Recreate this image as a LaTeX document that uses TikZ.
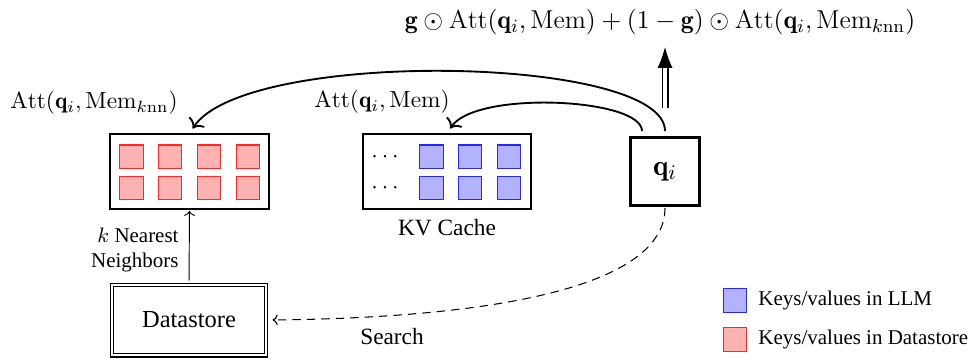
\documentclass[tikz,border=0pt]{standalone}
\usepackage{fontspec}
\usepackage{amsmath}
\newfontfamily\tnr{Liberation Serif}
\usetikzlibrary{arrows.meta,calc}
\begin{document}
\begin{tikzpicture}[x=0.4292pt,y=-0.4292pt,
  panel/.style={draw,line width=0.5pt,minimum height=32.2pt,inner sep=0pt},
  redsq/.style={draw=red!85,fill=red!30,line width=0.45pt,minimum size=9.9pt,inner sep=0pt},
  bluesq/.style={draw=blue!85,fill=blue!30,line width=0.45pt,minimum size=9.9pt,inner sep=0pt},
  qbox/.style={draw,line width=1pt,minimum width=29.6pt,minimum height=29.2pt,inner sep=0pt},
  dsbox/.style={draw,double,double distance=0.9pt,line width=0.45pt,minimum width=66.3pt,minimum height=30.4pt,inner sep=0pt},
  curvearr/.style={line width=0.8pt,-{To[length=3.6pt,width=8pt]}},
  thinarr/.style={line width=0.4pt,-{To[length=2.2pt,width=4.6pt]}},
  dasharr/.style={line width=0.45pt,dash pattern=on 3.6pt off 2.6pt,-{To[length=2.2pt,width=4.6pt]}},
  dblarr/.style={double,double distance=1.8pt,line width=0.6pt,-{Latex[length=9pt,width=6.5pt]}},
  txt/.style={font=\tnr\fontsize{10}{12}\selectfont,inner sep=0pt},
  smalltxt/.style={font=\tnr\fontsize{9}{10.8}\selectfont,inner sep=0pt},
  mathlbl/.style={inner sep=0pt}
]
\useasboundingbox (0,0) rectangle (972,359);

% formula
\node[mathlbl,font=\fontsize{11.1}{13}\selectfont] (formula) at (660,22) {$\mathbf{g}\odot\mathrm{Att}(\mathbf{q}_i,\mathrm{Mem})+(1-\mathbf{g})\odot\mathrm{Att}(\mathbf{q}_i,\mathrm{Mem}_{k\mathrm{nn}})$};

% boxes
\node[panel,minimum width=68.2pt] (knn) at (189.5,171.5) {};
\node[panel,minimum width=72.1pt] (kv) at (447,171.5) {};
\node[qbox] (q) at (665,171.5) {\fontsize{12.5}{14}\selectfont$\mathbf{q}_i$};
\node[dsbox,font=\tnr\fontsize{10.5}{12}\selectfont] (ds) at (189,320) {Datastore};

% red squares
\foreach \c [count=\n] in {131.5,170,209,248}{
  \node[redsq] (ra\n) at (\c,156.5) {};
  \node[redsq] (rb\n) at (\c,188) {};
}
% blue squares
\foreach \c [count=\n] in {431.5,470,509}{
  \node[bluesq] (ba\n) at (\c,156.5) {};
  \node[bluesq] (bb\n) at (\c,188) {};
}
\node[mathlbl] (dots1) at (387,157) {$\cdots$};
\node[mathlbl] (dots2) at (387,188) {$\cdots$};

% labels
\node[mathlbl] (lknn) at (94,103) {$\mathrm{Att}(\mathbf{q}_i,\mathrm{Mem}_{k\mathrm{nn}})$};
\node[mathlbl] (lmem) at (382,102) {$\mathrm{Att}(\mathbf{q}_i,\mathrm{Mem})$};
\node[txt] (kvlbl) at (447,228) {KV Cache};
\node[smalltxt,align=right,anchor=east] (nnlbl) at (179,250) {$k$ Nearest\\Neighbors};
\node[txt] (search) at (392,337) {Search};

% legend
\node[bluesq,minimum size=10.2pt] (legb) at (735,300.5) {};
\node[redsq,minimum size=10.2pt] (legr) at (735,339.5) {};
\node[smalltxt,anchor=west] (legbt) at (758,300) {Keys/values in LLM};
\node[smalltxt,anchor=west] (legrt) at (758,339) {Keys/values in Datastore};

% connectors
\coordinate (qa) at (642,131);
\coordinate (qb) at (665,131);
\coordinate (up) at (665,108);
\draw[curvearr,shorten >=2.5pt] (qa) .. controls (642,98) and (475,90) .. (kv.north);
\draw[curvearr,shorten >=2.5pt] (qb) .. controls (665,55) and (245,48) .. (knn.north);
\draw[dblarr,shorten >=5pt] (up) -- (up |- formula.south);
\draw[thinarr,shorten <=1.5pt,shorten >=0.5pt] (ds.north) -- (knn.south);
\draw[dasharr,shorten <=0.5pt,shorten >=2.5pt] (q.south) .. controls (665,290) and (480,318) .. (ds.east);
\end{tikzpicture}
\end{document}
